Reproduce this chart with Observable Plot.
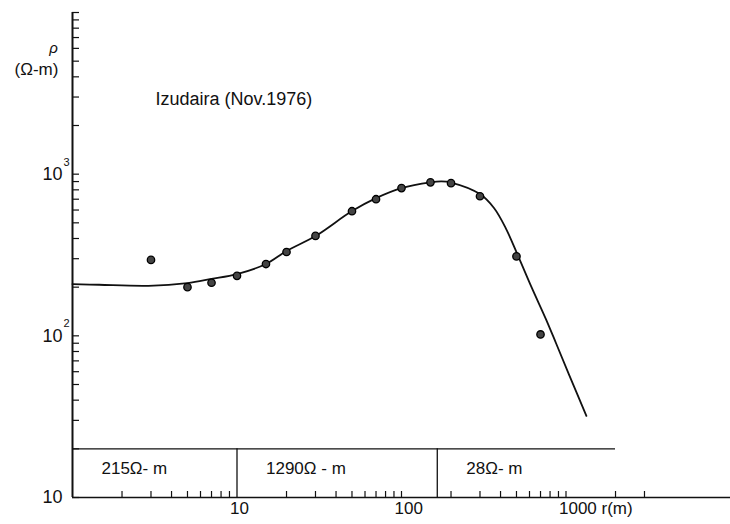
<!DOCTYPE html>
<html>
<head>
<meta charset="utf-8">
<script src="https://cdn.jsdelivr.net/npm/d3@7"></script>
<script src="https://cdn.jsdelivr.net/npm/@observablehq/plot@0.6"></script>
<style>
  html, body { margin: 0; padding: 0; background: #fff; }
  #chart svg { display: block; }
</style>
</head>
<body>
<div id="chart"></div>
<script>
// ---- data ----
const title = "Izudaira (Nov.1976)";

// observed apparent resistivity (dots)
const obsR   = [3, 5, 7, 10, 15, 20, 30, 50, 70, 100, 150, 200, 300, 500, 700];
const obsRho = [295, 200, 213, 235, 278, 330, 415, 590, 700, 820, 890, 880, 730, 310, 102];

// model curve
const curveR   = [1, 1.45, 2.9, 5, 7, 10, 15, 20, 30, 50, 70, 100, 150, 175, 200, 300, 365, 430, 515, 620, 755, 870, 1040, 1330];
const curveRho = [209, 207, 204, 212, 225, 241, 278, 335, 414, 591, 711, 820, 890, 902, 888, 753, 617, 464, 307, 198, 127, 90, 58, 32];

// layered model box
const layerBounds = [1, 10, 165, 2000];
const layerLabels = ["215Ω- m", "1290Ω - m", "28Ω- m"];
const boxTop = 20;

// axis ticks & labels
const yTicks = [10,20,30,40,50,60,70,80,90,100,200,300,400,500,600,700,800,900,1000,2000,3000,4000,5000,6000,7000,8000,9000,10000];
const xTicks = [2,3,4,5,6,7,8,9,20,30,40,50,60,70,80,90,100,200,300,400,500,600,700,800,900,1000,2000,3000];
const yLabelVals = [10, 100, 1000];
const yLabelBase = ["10", "10", "10"];
const yLabelExp  = ["", "2", "3"];
const xLabelVals = [10, 100, 1000];
const xLabelText = ["10", "100", "1000 r(m)"];

// ---- build tables ----
const obs = obsR.map((r, i) => ({r, rho: obsRho[i]}));
const curve = curveR.map((r, i) => ({r, rho: curveRho[i]}));
const layers = layerLabels.map((t, i) => ({from: layerBounds[i], to: layerBounds[i + 1], text: t}));
const yLabs = yLabelVals.map((v, i) => ({v, base: yLabelBase[i], exp: yLabelExp[i]}));
const xLabs = xLabelVals.map((v, i) => ({v, text: xLabelText[i]}));

const W = 730, H = 524, mL = 72, mR = 0, mT = 12, mB = 27;
const frameW = W - mL - mR, frameH = H - mT - mB;

const chart = Plot.plot({
  width: W, height: H,
  marginLeft: mL, marginRight: mR, marginTop: mT, marginBottom: mB,
  x: {type: "log", domain: [1, 10000], axis: null},
  y: {type: "log", domain: [10, 10000], axis: null},
  style: {fontFamily: "'Liberation Sans', Arial, sans-serif", background: "#fff", color: "#111"},
  marks: [
    // axes lines
    Plot.ruleX([1], {stroke: "#111", strokeWidth: 2}),
    Plot.ruleY([10], {stroke: "#111", strokeWidth: 1.5}),
    // inward ticks
    Plot.tickY(yTicks, {y: d => d, insetRight: frameW - 7, stroke: "#111", strokeWidth: 1.2}),
    Plot.tickX(xTicks, {x: d => d, insetTop: frameH - 6, stroke: "#111", strokeWidth: 1.2}),
    // layered model box
    Plot.ruleY([boxTop], {x1: layerBounds[0], x2: layerBounds[layerBounds.length - 1], stroke: "#111", strokeWidth: 1.3}),
    Plot.ruleX(layerBounds.slice(1, -1), {y1: 10, y2: boxTop, stroke: "#111", strokeWidth: 1.3}),
    Plot.text(layers, {x: "from", text: "text", frameAnchor: "bottom", dy: -24, dx: 29, textAnchor: "start", fontSize: 17, fill: "#111"}),
    // model curve and observations
    Plot.line(curve, {x: "r", y: "rho", curve: "catmull-rom", stroke: "#111", strokeWidth: 1.8}),
    Plot.dot(obs, {x: "r", y: "rho", r: 3.7, fill: "#444", stroke: "#000", strokeWidth: 1.3}),
    // y tick labels
    Plot.text(yLabs, {y: "v", text: "base", frameAnchor: "left", dx: -10, textAnchor: "end", fontSize: 18, fill: "#111"}),
    Plot.text(yLabs, {y: "v", text: "exp", frameAnchor: "left", dx: -9, dy: -12, textAnchor: "start", fontSize: 11, fill: "#111"}),
    // x tick labels
    Plot.text(xLabs, {x: "v", text: "text", frameAnchor: "bottom", dx: -7, dy: 16, textAnchor: "start", fontSize: 17, fill: "#111"}),
    // y axis name
    Plot.text(["ρ"], {frameAnchor: "top-left", dx: -19, dy: 30, textAnchor: "middle", fontSize: 15, fontStyle: "italic", fill: "#111"}),
    Plot.text(["(Ω-m)"], {frameAnchor: "top-left", dx: -36, dy: 50, textAnchor: "middle", fontSize: 17, fill: "#111"}),
    // title
    Plot.text([title], {frameAnchor: "top-left", dx: 83, dy: 80, textAnchor: "start", fontSize: 18, fill: "#111"})
  ]
});
document.getElementById("chart").appendChild(chart);
</script>
</body>
</html>
